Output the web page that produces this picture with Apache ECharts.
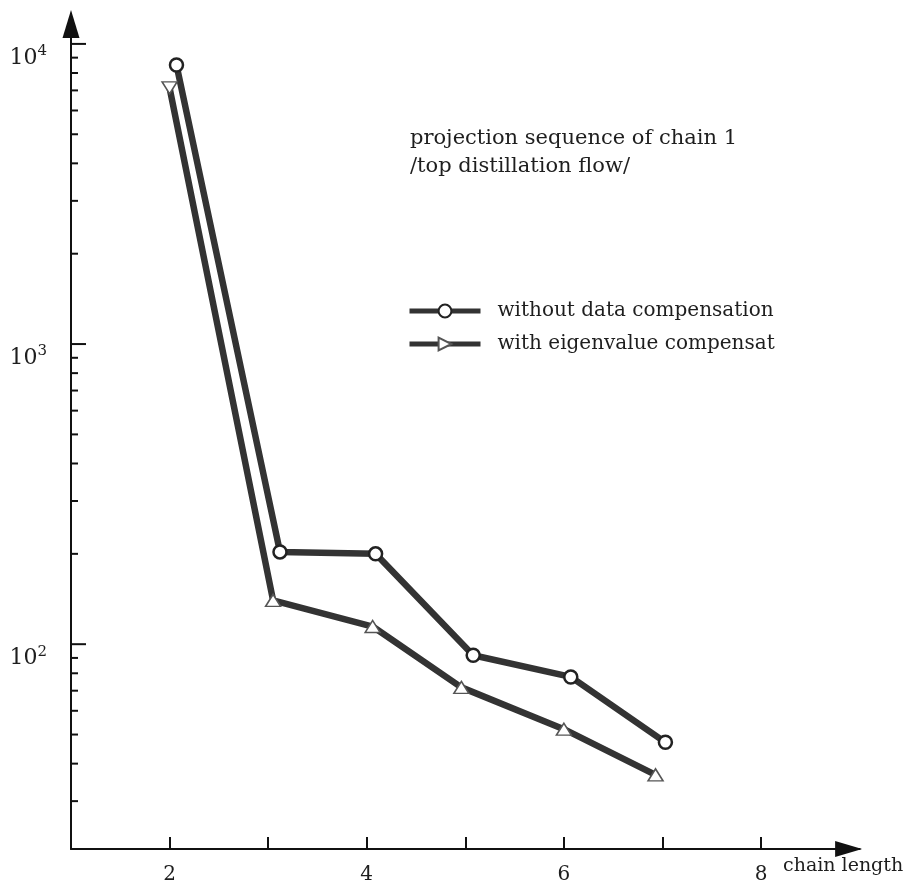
<!DOCTYPE html>
<html>
<head>
<meta charset="utf-8">
<script src="https://cdn.jsdelivr.net/npm/echarts@6/dist/echarts.min.js"></script>
<style>
html,body{margin:0;padding:0;background:#fff;}
#chart{width:908px;height:885px;}
</style>
</head>
<body>
<div id="chart"></div>
<script>
// ---- data ----
const seriesNames = ['without data compensation', 'with eigenvalue compensat'];
const chainLenA = [2.07, 3.12, 4.09, 5.08, 6.07, 7.03];
const valuesA   = [8510, 203, 200, 91.9, 77.8, 47.1];
const chainLenB = [2.0, 3.05, 4.06, 4.96, 6.0, 6.93];
const valuesB   = [7140, 140, 114.5, 71.8, 52.1, 36.7];
const xTickValues  = [2, 3, 4, 5, 6, 7, 8];
const xLabelValues = [2, 4, 6, 8];
const yMajorTicks = [100, 1000, 10000];
const yMinorTicks = [30, 40, 50, 60, 70, 80, 90,
                     200, 300, 400, 500, 600, 700, 800, 900,
                     2000, 3000, 4000, 5000, 6000, 7000, 8000, 9000];
const titleLines = ['projection sequence of chain 1', '/top distillation flow/'];
const xAxisName = 'chain length';

const FONT = 'DejaVu Serif';
const INK = '#1e1e1e';
const LINE = '#333333';

const chart = echarts.init(document.getElementById('chart'));

const tickData = yMajorTicks.map(v => [1, v, 1]).concat(yMinorTicks.map(v => [1, v, 0]));

chart.setOption({
  animation: false,
  backgroundColor: '#fff',
  title: {
    text: titleLines.join('\n'),
    left: 410, top: 125, padding: 0,
    textStyle: { fontFamily: FONT, fontSize: 21, fontWeight: 'normal', color: INK, lineHeight: 28 }
  },
  legend: {
    data: seriesNames,
    orient: 'vertical',
    left: 407, top: 301, padding: 0,
    itemWidth: 71, itemHeight: 16, itemGap: 13,
    lineStyle: { width: 5 },
    textStyle: { fontFamily: FONT, fontSize: 20, color: INK, padding: [0, 0, 0, 12] }
  },
  graphic: [{
    type: 'text', left: 783, top: 857,
    style: { text: xAxisName, font: '19px "DejaVu Serif"', fill: INK }
  }],
  grid: { left: 71, right: 908 - 859.6, top: 24, bottom: 35, containLabel: false },
  xAxis: {
    type: 'value', min: 1, max: 9, interval: 1,
    splitLine: { show: false },
    axisLine: {
      lineStyle: { color: '#111', width: 2 },
      symbol: ['none', 'triangle'], symbolSize: [16, 27], symbolOffset: [0, -11]
    },
    axisTick: { show: true, inside: true, length: 12, lineStyle: { color: '#111', width: 2 }, customValues: xTickValues },
    axisLabel: { customValues: xLabelValues, margin: 16, fontFamily: FONT, fontSize: 20, color: INK }
  },
  yAxis: {
    type: 'log', min: 20.78, max: 11650,
    splitLine: { show: false },
    minorTick: { show: false },
    axisLine: {
      lineStyle: { color: '#111', width: 2 },
      symbol: ['none', 'triangle'], symbolSize: [17, 28]
    },
    axisTick: { show: false },
    axisLabel: {
      showMinLabel: false, showMaxLabel: false,
      margin: 24, verticalAlign: 'top',
      formatter: function (v) {
        const e = Math.round(Math.log10(v));
        if (Math.abs(Math.log10(v) - e) > 1e-6) return '';
        return '{b|10}{s|' + e + '}';
      },
      rich: {
        b: { fontFamily: FONT, fontSize: 22, color: INK, lineHeight: 25, verticalAlign: 'bottom' },
        s: { fontFamily: FONT, fontSize: 15, color: INK, lineHeight: 15, verticalAlign: 'top' }
      }
    }
  },
  series: [
    {
      type: 'custom', silent: true, z: 3,
      encode: { x: 0, y: 1 },
      data: tickData,
      renderItem: function (params, api) {
        const p = api.coord([api.value(0), api.value(1)]);
        const len = api.value(2) ? 15 : 7;
        return { type: 'line', shape: { x1: p[0], y1: p[1], x2: p[0] + len, y2: p[1] },
                 style: { stroke: '#111', lineWidth: 2 } };
      }
    },
    {
      name: seriesNames[0], type: 'line',
      data: chainLenA.map((x, i) => [x, valuesA[i]]),
      symbol: 'circle', symbolSize: 13, showAllSymbol: true,
      lineStyle: { color: LINE, width: 6.5 },
      itemStyle: { color: '#fff', borderColor: '#222', borderWidth: 2.5 },
      z: 4
    },
    {
      name: seriesNames[1], type: 'line',
      data: chainLenB.map((x, i) => ({ value: [x, valuesB[i]], symbolRotate: i === 0 ? 180 : 0 })),
      symbol: 'triangle', symbolSize: [15, 12], symbolRotate: -90, showAllSymbol: true,
      lineStyle: { color: LINE, width: 6.5 },
      itemStyle: { color: '#fff', borderColor: '#555', borderWidth: 1.5 },
      z: 4
    }
  ]
});
</script>
</body>
</html>
